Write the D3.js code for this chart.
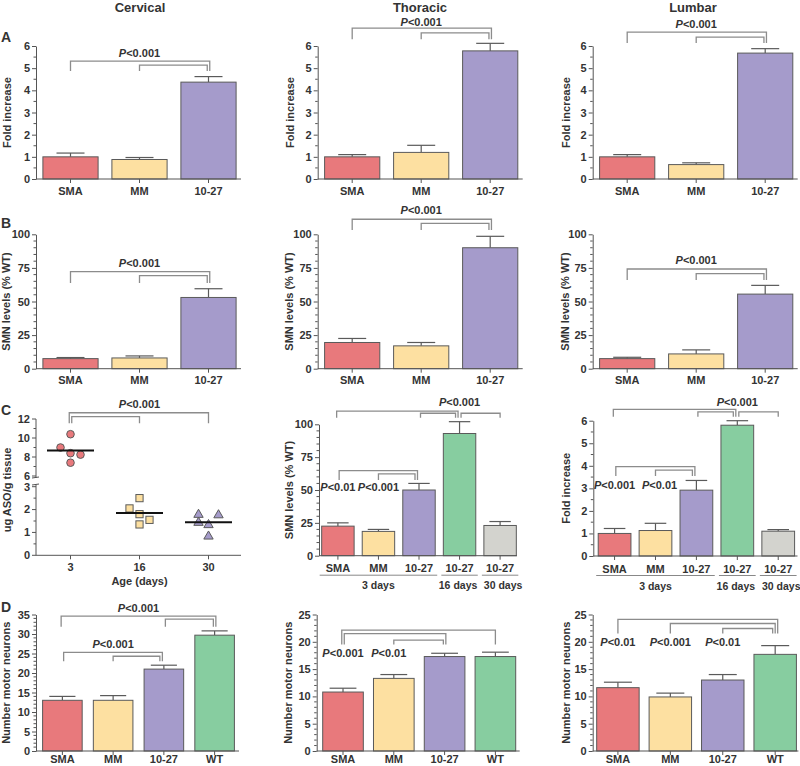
<!DOCTYPE html>
<html><head><meta charset="utf-8">
<script src="https://cdn.jsdelivr.net/npm/d3@7"></script>
<style>
body{margin:0;background:#fff}
svg{display:block}
text{font-family:"Liberation Sans",Arial,Helvetica,sans-serif;font-weight:bold;fill:#333}
</style></head>
<body><svg id="c" width="800" height="766"></svg>
<script>
// ---------- DATA ----------
const regions = ["Cervical", "Thoracic", "Lumbar"];
const groups3 = ["SMA", "MM", "10-27"];
const groups4 = ["SMA", "MM", "10-27", "WT"];
const groupsC = ["SMA", "MM", "10-27", "10-27", "10-27"];
const ageGroupsC = ["3 days", "16 days", "30 days"];
const ageGroupSpan = [[0, 2], [3, 3], [4, 4]];
const panelLetters = ["A", "B", "C", "D"];

// A: fold increase (mean, SEM) per region
const foldMean = [[1.0, 0.88, 4.37], [1.0, 1.2, 5.78], [1.0, 0.65, 5.68]];
const foldSem  = [[0.17, 0.09, 0.25], [0.1, 0.32, 0.34], [0.1, 0.08, 0.2]];
// B: SMN levels (% WT)
const smnMean = [[7.5, 8, 53], [19.5, 17, 90], [7.5, 11, 55.5]];
const smnSem  = [[0.8, 1.5, 6.5], [3, 2.5, 8.5], [1, 3, 6.5]];
// C left: ug ASO / g tissue by age
const ageDays = ["3", "16", "30"];
const aso3  = [9.0, 10.4, 8.4, 8.25, 7.4];
const aso16 = [2.05, 2.5, 1.8, 1.55, 1.35];
const aso30 = [1.8, 1.45, 1.35, 1.78, 0.85];
// C middle: SMN levels time course ; C right: fold increase time course
const smnTimeMean = [22.5, 18.5, 50, 93, 23];
const smnTimeSem  = [2.5, 1.5, 5, 9, 3];
const foldTimeMean = [1.0, 1.13, 2.92, 5.8, 1.1];
const foldTimeSem  = [0.22, 0.32, 0.43, 0.2, 0.07];
// D: number of motor neurons
const mnMean = [[13, 13, 21, 29.7], [10.8, 13.3, 17.3, 17.3], [11.6, 9.9, 13, 17.7]];
const mnSem  = [[1, 1.2, 1, 1.1], [0.7, 0.7, 0.6, 0.8], [1, 0.7, 1, 1.6]];

// significance annotations (bracket heights in data units)
const brA = [
  [{a:0,b:2,top:5.32,drop:4.87},{a:1,b:2,top:5.14,drop:4.87}],
  [{a:0,b:2,top:6.81,drop:6.31},{a:1,b:2,top:6.59,drop:6.31}],
  [{a:0,b:2,top:6.63,drop:6.13},{a:1,b:2,top:6.40,drop:6.13}]];
const pA = [[{t:"P<0.001",at:1,v:5.68}],[{t:"P<0.001",at:1,v:7.08}],[{t:"P<0.001",at:1,v:6.99}]];
const brB = [
  [{a:0,b:2,top:72.2,drop:63.8},{a:1,b:2,top:69.2,drop:63.8}],
  [{a:0,b:2,top:111.2,drop:103.2},{a:1,b:2,top:108.2,drop:103.2}],
  [{a:0,b:2,top:74.2,drop:66},{a:1,b:2,top:70.7,drop:66}]];
const pB = [[{t:"P<0.001",at:1,v:78.9}],[{t:"P<0.001",at:1,v:117.6}],[{t:"P<0.001",at:1,v:80.4}]];
const brCasO = [{a:0,b:2,top:12.66,drop:11.55},{a:0,b:1,top:12.24,drop:11.55}];
const pCaso = [{t:"P<0.001",at:1,v:13.55}];
const brCsmn = [{a:0,b:3,top:110.1,drop:105},{a:2,b:3,top:108.4,drop:105},{a:3,b:4,top:108.4,drop:105},
                {a:0,b:2,top:64.7,drop:57.6},{a:1,b:2,top:62.2,drop:57.6}];
const pCsmn = [{t:"P<0.001",at:3,v:116.7},{t:"P<0.01",at:0,v:52},{t:"P<0.001",at:1,v:52}];
const brCfold = [{a:0,b:3,top:6.5,drop:6.18},{a:2,b:3,top:6.39,drop:6.18},{a:3,b:4,top:6.39,drop:6.18},
                 {a:0,b:2,top:3.96,drop:3.55},{a:1,b:2,top:3.81,drop:3.55}];
const pCfold = [{t:"P<0.001",at:3,v:6.84},{t:"P<0.001",at:0,v:3.12},{t:"P<0.01",at:1.1,v:3.12}];
const brD = [
  [{a:0,b:3,top:34.56,drop:31.85},{a:2,b:3,top:33.8,drop:31.85},{a:0,b:2,top:25.27,drop:23.0},{a:1,b:2,top:24.3,drop:23.0}],
  [{a:0,b:3,top:22.13,drop:19.5},{a:0,b:2,top:21.5,drop:19.5},{a:1,b:2,top:20.3,drop:19.5}],
  [{a:0,b:3,top:24.1,drop:21.5},{a:1,b:3,top:23.35,drop:21.5},{a:2,b:3,top:22.44,drop:21.5}]];
const pD = [
  [{t:"P<0.001",at:1.5,v:36.7},{t:"P<0.001",at:1,v:27.4}],
  [{t:"P<0.001",at:0,v:17.9},{t:"P<0.01",at:0.9,v:17.9}],
  [{t:"P<0.01",at:0,v:20.0},{t:"P<0.001",at:1,v:20.0},{t:"P<0.01",at:2,v:20.0}]];

// ---------- STYLE ----------
const colorOf = {SMA:"#E8797C", MM:"#FDE0A1", "10-27":"#A59BCB", WT:"#87CDA0"};
const timeColors = ["#E8797C", "#FDE0A1", "#A59BCB", "#87CDA0", "#D3D3CE"];
const AX = "#555", BR = "#8c8c8c", OUT = "#5a5a5a";
const ageLabelNudge = [0, -1.5, 3];

const svg = d3.select("#c");

function pText(g, str, x, y) {
  const t = g.append("text").attr("x", x).attr("y", y).attr("text-anchor", "middle")
    .attr("dy", "0.35em").style("font-size", "11px");
  t.append("tspan").style("font-style", "italic").text(str[0]);
  t.append("tspan").text(str.slice(1));
}

function drawBrackets(g, list, cx, y) {
  const ends = {};
  list.forEach((b, k) => {
    [[b.a, -1], [b.b, 1]].forEach(([c, s]) => {
      const key = c + "_" + s; (ends[key] = ends[key] || []).push({k, top: b.top});
    });
  });
  const off = list.map(() => [0, 0]);
  Object.entries(ends).forEach(([key, arr]) => {
    const [c, s] = key.split("_").map(Number);
    arr.sort((p, q) => q.top - p.top);
    const both = !!ends[c + "_" + (-s)];
    const n = arr.length;
    arr.forEach((e, j) => {
      let o;
      if (both) o = (s > 0 ? -1 : 1) * (1.5 + j * 2.5);
      else o = s * ((n - 1 - j) - (n - 1) / 2) * 2.5;
      off[e.k][s < 0 ? 0 : 1] = o;
    });
  });
  list.forEach((b, k) => {
    const xa = cx(b.a) + off[k][0], xb = cx(b.b) + off[k][1];
    g.append("path").attr("d", `M${xa},${y(b.drop)}V${y(b.top)}H${xb}V${y(b.drop)}`)
      .attr("fill", "none").attr("stroke", BR).attr("stroke-width", 1.3);
  });
}

function yAxis(g, y, x0, ticks, minor) {
  const ax = d3.axisLeft(y).tickValues(ticks).tickSize(4).tickSizeOuter(0).tickPadding(2)
    .tickFormat(d3.format("d"));
  const a = g.append("g").attr("transform", `translate(${x0},0)`).call(ax);
  a.select(".domain").attr("stroke", AX);
  a.selectAll(".tick line").attr("stroke", AX);
  a.selectAll("text").style("font-size", "11px").style("font-family", null).attr("fill", "#333");
  a.selectAll(".minor").data(minor).join("line").attr("class", "minor")
    .attr("x1", 0).attr("x2", -2.5).attr("y1", d => y(d)).attr("y2", d => y(d)).attr("stroke", AX);
}

function yLabel(g, text, x, yc) {
  g.append("text").attr("transform", `translate(${x},${yc}) rotate(-90)`).attr("text-anchor", "middle")
    .attr("dy", "0.35em").style("font-size", "11px").text(text);
}

function barPanel(p) {
  const g = svg.append("g");
  const n = p.values.length;
  const x = d3.scaleBand().domain(d3.range(n)).range([p.x0, p.x1]).paddingInner(p.pi).paddingOuter(p.po);
  const y = d3.scaleLinear().domain(p.domain).range([p.yBot, p.yTop]);
  const cx = i => x(0) + x.bandwidth() / 2 + i * x.step();
  const bw = x.bandwidth();
  const cap = Math.min(28, bw * 0.66);
  p.values.forEach((v, i) => {
    const c = cx(i);
    g.append("line").attr("x1", c).attr("x2", c).attr("y1", y(v)).attr("y2", y(v + p.errs[i])).attr("stroke", OUT).attr("stroke-width", 1.2);
    g.append("line").attr("x1", c - cap / 2).attr("x2", c + cap / 2).attr("y1", y(v + p.errs[i])).attr("y2", y(v + p.errs[i])).attr("stroke", OUT).attr("stroke-width", 1.2);
  });
  g.selectAll("rect.bar").data(p.values).join("rect").attr("class", "bar")
    .attr("x", (d, i) => x(i)).attr("y", d => y(d)).attr("width", bw).attr("height", d => y(0) - y(d))
    .attr("fill", (d, i) => p.colors[i]).attr("stroke", OUT).attr("stroke-width", 1);
  yAxis(g, y, p.x0, p.ticks, p.minor);
  const xa = d3.axisBottom(x).tickSize(4).tickSizeOuter(0).tickPadding(p.lp).tickFormat(i => p.labels[i]);
  const a = g.append("g").attr("transform", `translate(0,${p.yBot})`).call(xa);
  a.select(".domain").attr("stroke", AX).attr("d", `M${p.x0},0H${p.x1 - 2}`);
  a.selectAll(".tick line").attr("stroke", AX);
  a.selectAll("text").style("font-size", p.lfs || "11px").style("font-family", null).attr("fill", "#333");
  yLabel(g, p.ylabel, p.ylx, (p.yTop + p.yBot) / 2);
  drawBrackets(g, p.brackets, cx, y);
  p.ptexts.forEach(t => pText(g, t.t, cx(t.at), y(t.v)));
  return {g, x, y, cx};
}

// ---------- TITLES & LETTERS ----------
const titleX = [140, 420, 693];
regions.forEach((r, i) => svg.append("text").attr("x", titleX[i]).attr("y", 12).attr("text-anchor", "middle")
  .style("font-size", "13px").text(r));
const letterY = [42, 228, 415, 612];
panelLetters.forEach((l, i) => svg.append("text").attr("x", 1).attr("y", letterY[i]).style("font-size", "14px").text(l));

// ---------- ROW A & B ----------
const colsAB = [[36, 243], [317.7, 524.7], [592.7, 799.7]];
const ylx = [7.5, 290, 566];
const c3 = groups3.map(g => colorOf[g]);
regions.forEach((r, i) => {
  barPanel({x0: colsAB[i][0], x1: colsAB[i][1], pi: 0.2, po: 0.1, yTop: 46, yBot: 179, domain: [0, 6],
    ticks: d3.range(0, 7), minor: d3.range(0.5, 6, 1), values: foldMean[i], errs: foldSem[i], colors: c3,
    labels: groups3, lp: 4, ylabel: "Fold increase", ylx: ylx[i], brackets: brA[i], ptexts: pA[i]});
  barPanel({x0: colsAB[i][0], x1: colsAB[i][1], pi: 0.2, po: 0.1, yTop: 234.3, yBot: 368.7, domain: [0, 100],
    ticks: [0, 25, 50, 75, 100], minor: d3.range(5, 100, 5).filter(v => v % 25), values: smnMean[i], errs: smnSem[i], colors: c3,
    labels: groups3, lp: 4, ylabel: "SMN levels (% WT)", ylx: ylx[i] - 1, brackets: brB[i], ptexts: pB[i]});
});

// ---------- ROW C left: broken-axis scatter ----------
(function () {
  const g = svg.append("g");
  const x0 = 36, x1 = 243;
  const x = d3.scaleBand().domain(d3.range(3)).range([x0, x1]).paddingInner(0.2).paddingOuter(0.1);
  const cx = i => x(0) + x.bandwidth() / 2 + i * x.step();
  const yU = d3.scaleLinear().domain([6, 12]).range([476, 419]);
  const yL = d3.scaleLinear().domain([0, 3]).range([555.3, 486.7]);
  const yv = v => v >= 3.5 ? yU(v) : yL(v);
  g.append("line").attr("x1", x0).attr("x2", x0).attr("y1", 419).attr("y2", 478).attr("stroke", AX);
  g.append("line").attr("x1", x0).attr("x2", x0).attr("y1", 484.5).attr("y2", 555.3).attr("stroke", AX);
  g.append("line").attr("x1", x0 - 4).attr("x2", x0 + 3).attr("y1", 478).attr("y2", 477).attr("stroke", AX);
  g.append("line").attr("x1", x0 - 4).attr("x2", x0 + 3).attr("y1", 485).attr("y2", 484).attr("stroke", AX);
  [[yU, [6, 8, 10, 12], [7, 9, 11]], [yL, [0, 1, 2, 3], [0.5, 1.5, 2.5]]].forEach(([ys, tk, mn]) => {
    tk.forEach(v => {
      g.append("line").attr("x1", x0 - 4).attr("x2", x0).attr("y1", ys(v)).attr("y2", ys(v)).attr("stroke", AX);
      g.append("text").attr("x", x0 - 6).attr("y", ys(v)).attr("dy", "0.35em").attr("text-anchor", "end")
        .style("font-size", "11px").text(v);
    });
    mn.forEach(v => g.append("line").attr("x1", x0 - 2.5).attr("x2", x0).attr("y1", ys(v)).attr("y2", ys(v)).attr("stroke", AX));
  });
  const xa = d3.axisBottom(x).tickSize(4).tickSizeOuter(0).tickPadding(4).tickFormat(i => ageDays[i]);
  const a = g.append("g").attr("transform", "translate(0,555.3)").call(xa);
  a.select(".domain").attr("stroke", AX).attr("d", `M${x0},0H${x1 - 2}`);
  a.selectAll(".tick line").attr("stroke", AX);
  a.selectAll("text").style("font-size", "11px").style("font-family", null).attr("fill", "#333");
  g.append("text").attr("x", cx(1)).attr("y", 585).attr("text-anchor", "middle").style("font-size", "11px").text("Age (days)");
  yLabel(g, "ug ASO/g tissue", 7.5, 490);
  const sets = [aso3, aso16, aso30];
  const jitterSlots = [[-1, 0, 0, 1, 0], [-1, 0, 0, 1, 0], [-1, -1, 0, 1, 0]];
  const cols = ["#E8797C", "#FDE0A1", "#A59BCB"];
  const slotW = 10;
  sets.forEach((vals, gi) => {
    const m = d3.mean(vals);
    vals.forEach((v, k) => {
      const px = cx(gi) + jitterSlots[gi][k] * slotW, py = yv(v);
      if (gi === 0) g.append("circle").attr("cx", px).attr("cy", py).attr("r", 3.8).attr("fill", cols[gi]).attr("stroke", OUT);
      else if (gi === 1) g.append("rect").attr("x", px - 3.6).attr("y", py - 3.6).attr("width", 7.2).attr("height", 7.2).attr("fill", cols[gi]).attr("stroke", OUT);
      else g.append("path").attr("d", d3.symbol(d3.symbolTriangle, 38)()).attr("transform", `translate(${px},${py + 0.5})`).attr("fill", cols[gi]).attr("stroke", OUT);
    });
    g.append("line").attr("x1", cx(gi) - 23.5).attr("x2", cx(gi) + 23.5).attr("y1", yv(m)).attr("y2", yv(m))
      .attr("stroke", "#111").attr("stroke-width", 2);
  });
  drawBrackets(g, brCasO, cx, yU);
  pCaso.forEach(t => pText(g, t.t, cx(t.at), yU(t.v)));
})();

// ---------- ROW C middle/right: time course bars ----------
function timePanel(p) {
  const r = barPanel(p);
  const bw = r.x.bandwidth();
  ageGroupSpan.forEach((s, k) => {
    const xa = r.x(s[0]) - 2, xb = r.x(s[1]) + bw + 2;
    r.g.append("line").attr("x1", xa).attr("x2", xb).attr("y1", p.yBot + 19.5).attr("y2", p.yBot + 19.5).attr("stroke", "#888").attr("stroke-width", 1);
    r.g.append("text").attr("x", (xa + xb) / 2 + ageLabelNudge[k]).attr("y", p.yBot + 33.5).attr("text-anchor", "middle")
      .style("font-size", "10.5px").text(ageGroupsC[k]);
  });
}
timePanel({x0: 319, x1: 519, pi: 0.2, po: 0.066, yTop: 424.3, yBot: 555.7, domain: [0, 100],
  ticks: [0, 25, 50, 75, 100], minor: d3.range(5, 100, 5).filter(v => v % 25), values: smnTimeMean, errs: smnTimeSem,
  colors: timeColors, labels: groupsC, lp: 5, ylabel: "SMN levels (% WT)", ylx: 289, brackets: brCsmn, ptexts: pCsmn});
timePanel({x0: 593.3, x1: 799.5, pi: 0.2, po: 0.12, yTop: 420.7, yBot: 556, domain: [0, 6],
  ticks: d3.range(0, 7), minor: d3.range(0.5, 6, 1), values: foldTimeMean, errs: foldTimeSem,
  colors: timeColors, labels: groupsC, lp: 5, ylabel: "Fold increase", ylx: 566.5, brackets: brCfold, ptexts: pCfold});

// ---------- ROW D ----------
const colsD = [[36, 241, 0.22, 0.13], [316.7, 521.7, 0.2, 0.118], [592.7, 800.4, 0.19, 0.076]];
const domD = [[0, 35], [0, 25], [0, 25]];
const ylxD = [6, 288.5, 566.5];
const c4 = groups4.map(g => colorOf[g]);
regions.forEach((r, i) => {
  const mx = domD[i][1];
  barPanel({x0: colsD[i][0], x1: colsD[i][1], pi: colsD[i][2], po: colsD[i][3], yTop: 614.5, yBot: 751, domain: domD[i],
    ticks: d3.range(0, mx + 1, 5), minor: d3.range(1, mx, 1).filter(v => v % 5), values: mnMean[i], errs: mnSem[i],
    colors: c4, labels: groups4, lp: 0, ylabel: "Number motor neurons", ylx: ylxD[i], brackets: brD[i], ptexts: pD[i]});
});
</script></body></html>
